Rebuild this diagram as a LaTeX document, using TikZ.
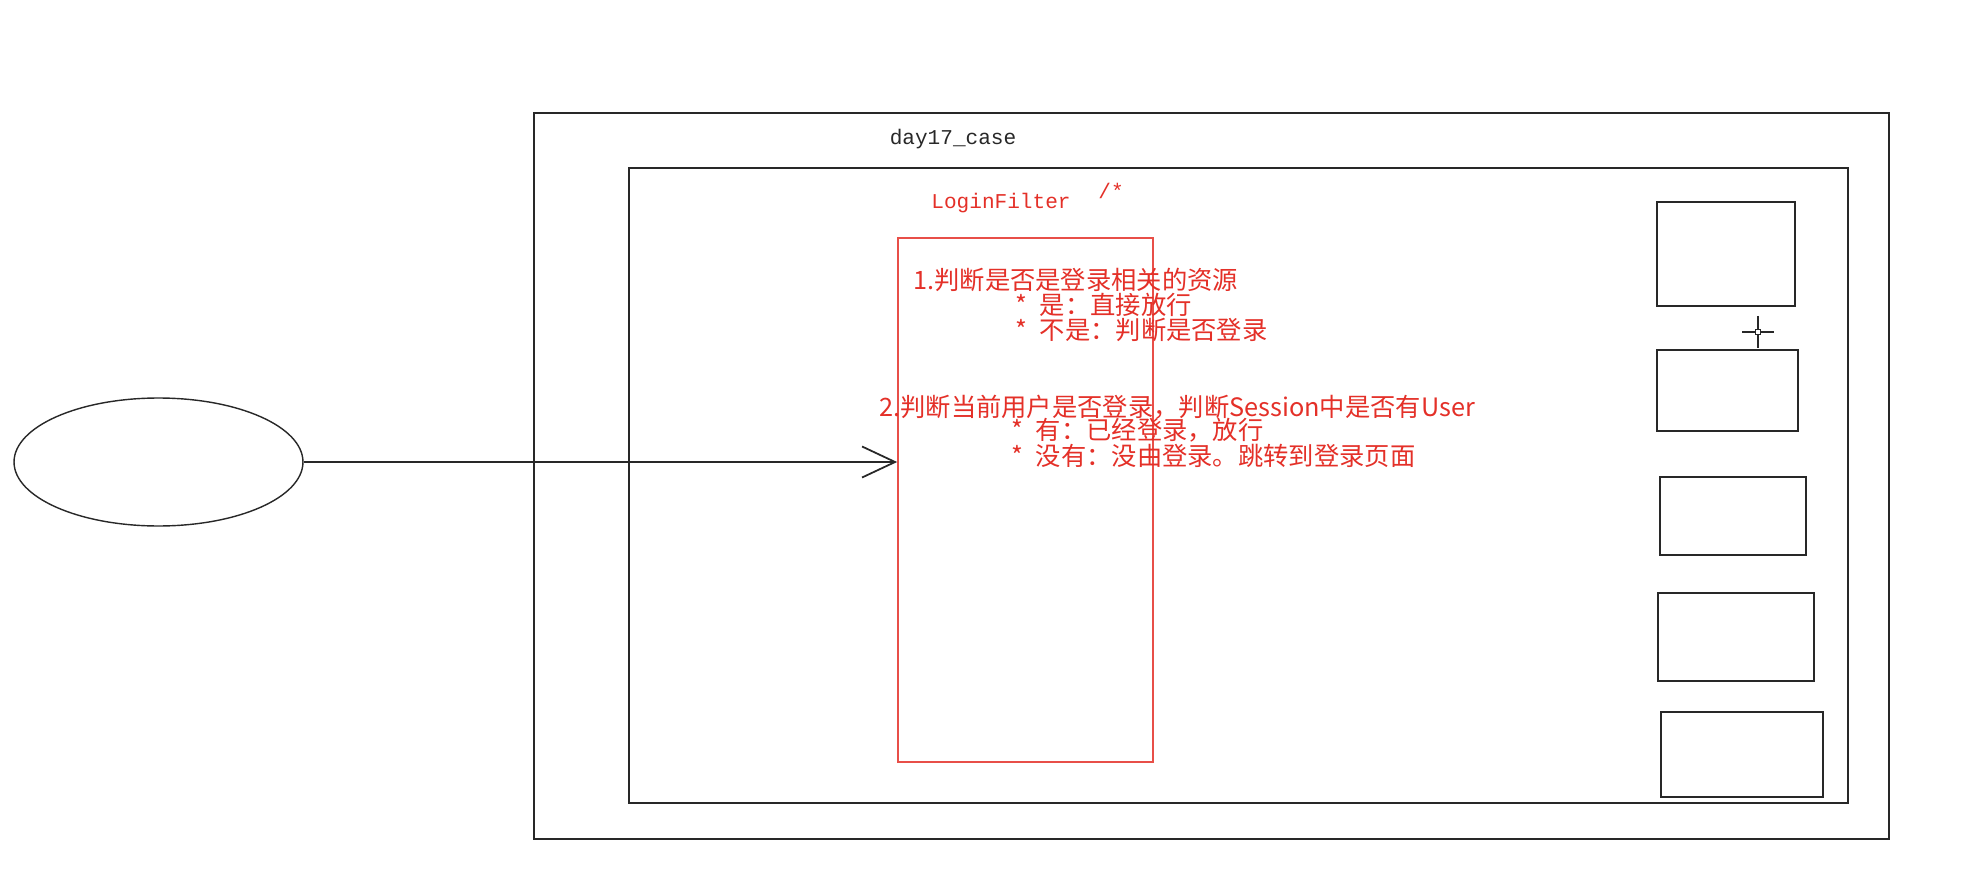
\documentclass[tikz,border=0pt]{standalone}
\usepackage{fontspec}
\usetikzlibrary{shapes.geometric,arrows.meta}
\newfontfamily\cjk{Noto Sans CJK SC}
\newfontfamily\monof{Liberation Mono}
\definecolor{pen}{RGB}{40,40,40}
\definecolor{filterred}{RGB}{228,48,40}
\newcommand\bullitem{*\hspace{0.5em}}
\tikzset{
  box/.style={draw=pen,line width=1pt,rectangle,inner sep=0pt},
  redbox/.style={draw=filterred!85,line width=1pt,rectangle,inner sep=0pt},
  rulenote/.style={text=filterred,font=\cjk\fontsize{14.4}{17}\selectfont,anchor=west,inner sep=0pt},
  monotext/.style={font=\monof\fontsize{12}{14}\selectfont,inner sep=0pt},
  flow/.style={draw=pen,line width=1pt,-{Straight Barb[length=0.66cm,width=0.62cm]}}
}
\begin{document}
\begin{tikzpicture}[x=0.02cm,y=-0.02cm]
\useasboundingbox[fill=white] (0,0) rectangle (1966,871);
% project and web app
\node[box,minimum width=27.10cm,minimum height=14.52cm] (project) at (1211.5,476) {};
\node[box,minimum width=24.38cm,minimum height=12.70cm] (webapp) at (1238.5,485.5) {};
\node[monotext,text=pen] (projname) at (953,139) {day17\_case};
% filter
\node[redbox,minimum width=5.10cm,minimum height=10.48cm] (loginfilter) at (1025.5,500) {};
\node[monotext,text=filterred] (filtername) at (1001,203) {LoginFilter};
\node[monotext,text=filterred] (pattern) at (1111,191) {/*};
\node[rulenote] (rule1) at (913,280) {1.判断是否是登录相关的资源};
\node[rulenote] (rule1a) at (1015,305) {\bullitem 是：直接放行};
\node[rulenote] (rule1b) at (1015,330) {\bullitem 不是：判断是否登录};
\node[rulenote] (rule2) at (879,407) {2.判断当前用户是否登录，判断Session中是否有User};
\node[rulenote] (rule2a) at (1011,430) {\bullitem 有：已经登录，放行};
\node[rulenote] (rule2b) at (1011,456) {\bullitem 没有：没由登录。跳转到登录页面};
% resources
\node[box,minimum width=2.76cm,minimum height=2.08cm] (res1) at (1726,254) {};
\node[box,minimum width=2.82cm,minimum height=1.62cm] (res2) at (1727.5,390.5) {};
\node[box,minimum width=2.92cm,minimum height=1.56cm] (res3) at (1733,516) {};
\node[box,minimum width=3.12cm,minimum height=1.76cm] (res4) at (1736,637) {};
\node[box,minimum width=3.24cm,minimum height=1.70cm] (res5) at (1742,754.5) {};
% browser
\node[ellipse,draw=pen,line width=0.8pt,inner sep=0pt,minimum width=5.78cm,minimum height=2.56cm] (client) at (158.5,462) {};
\path[flow] (client.east) -- (loginfilter.west |- client.east);
% cursor
\draw[pen,line width=1pt] (1742,332) -- (1774,332) (1758,316) -- (1758,348);
\draw[pen,fill=white,line width=0.6pt] (1755.5,329.5) rectangle (1760.5,334.5);
\end{tikzpicture}
\end{document}
